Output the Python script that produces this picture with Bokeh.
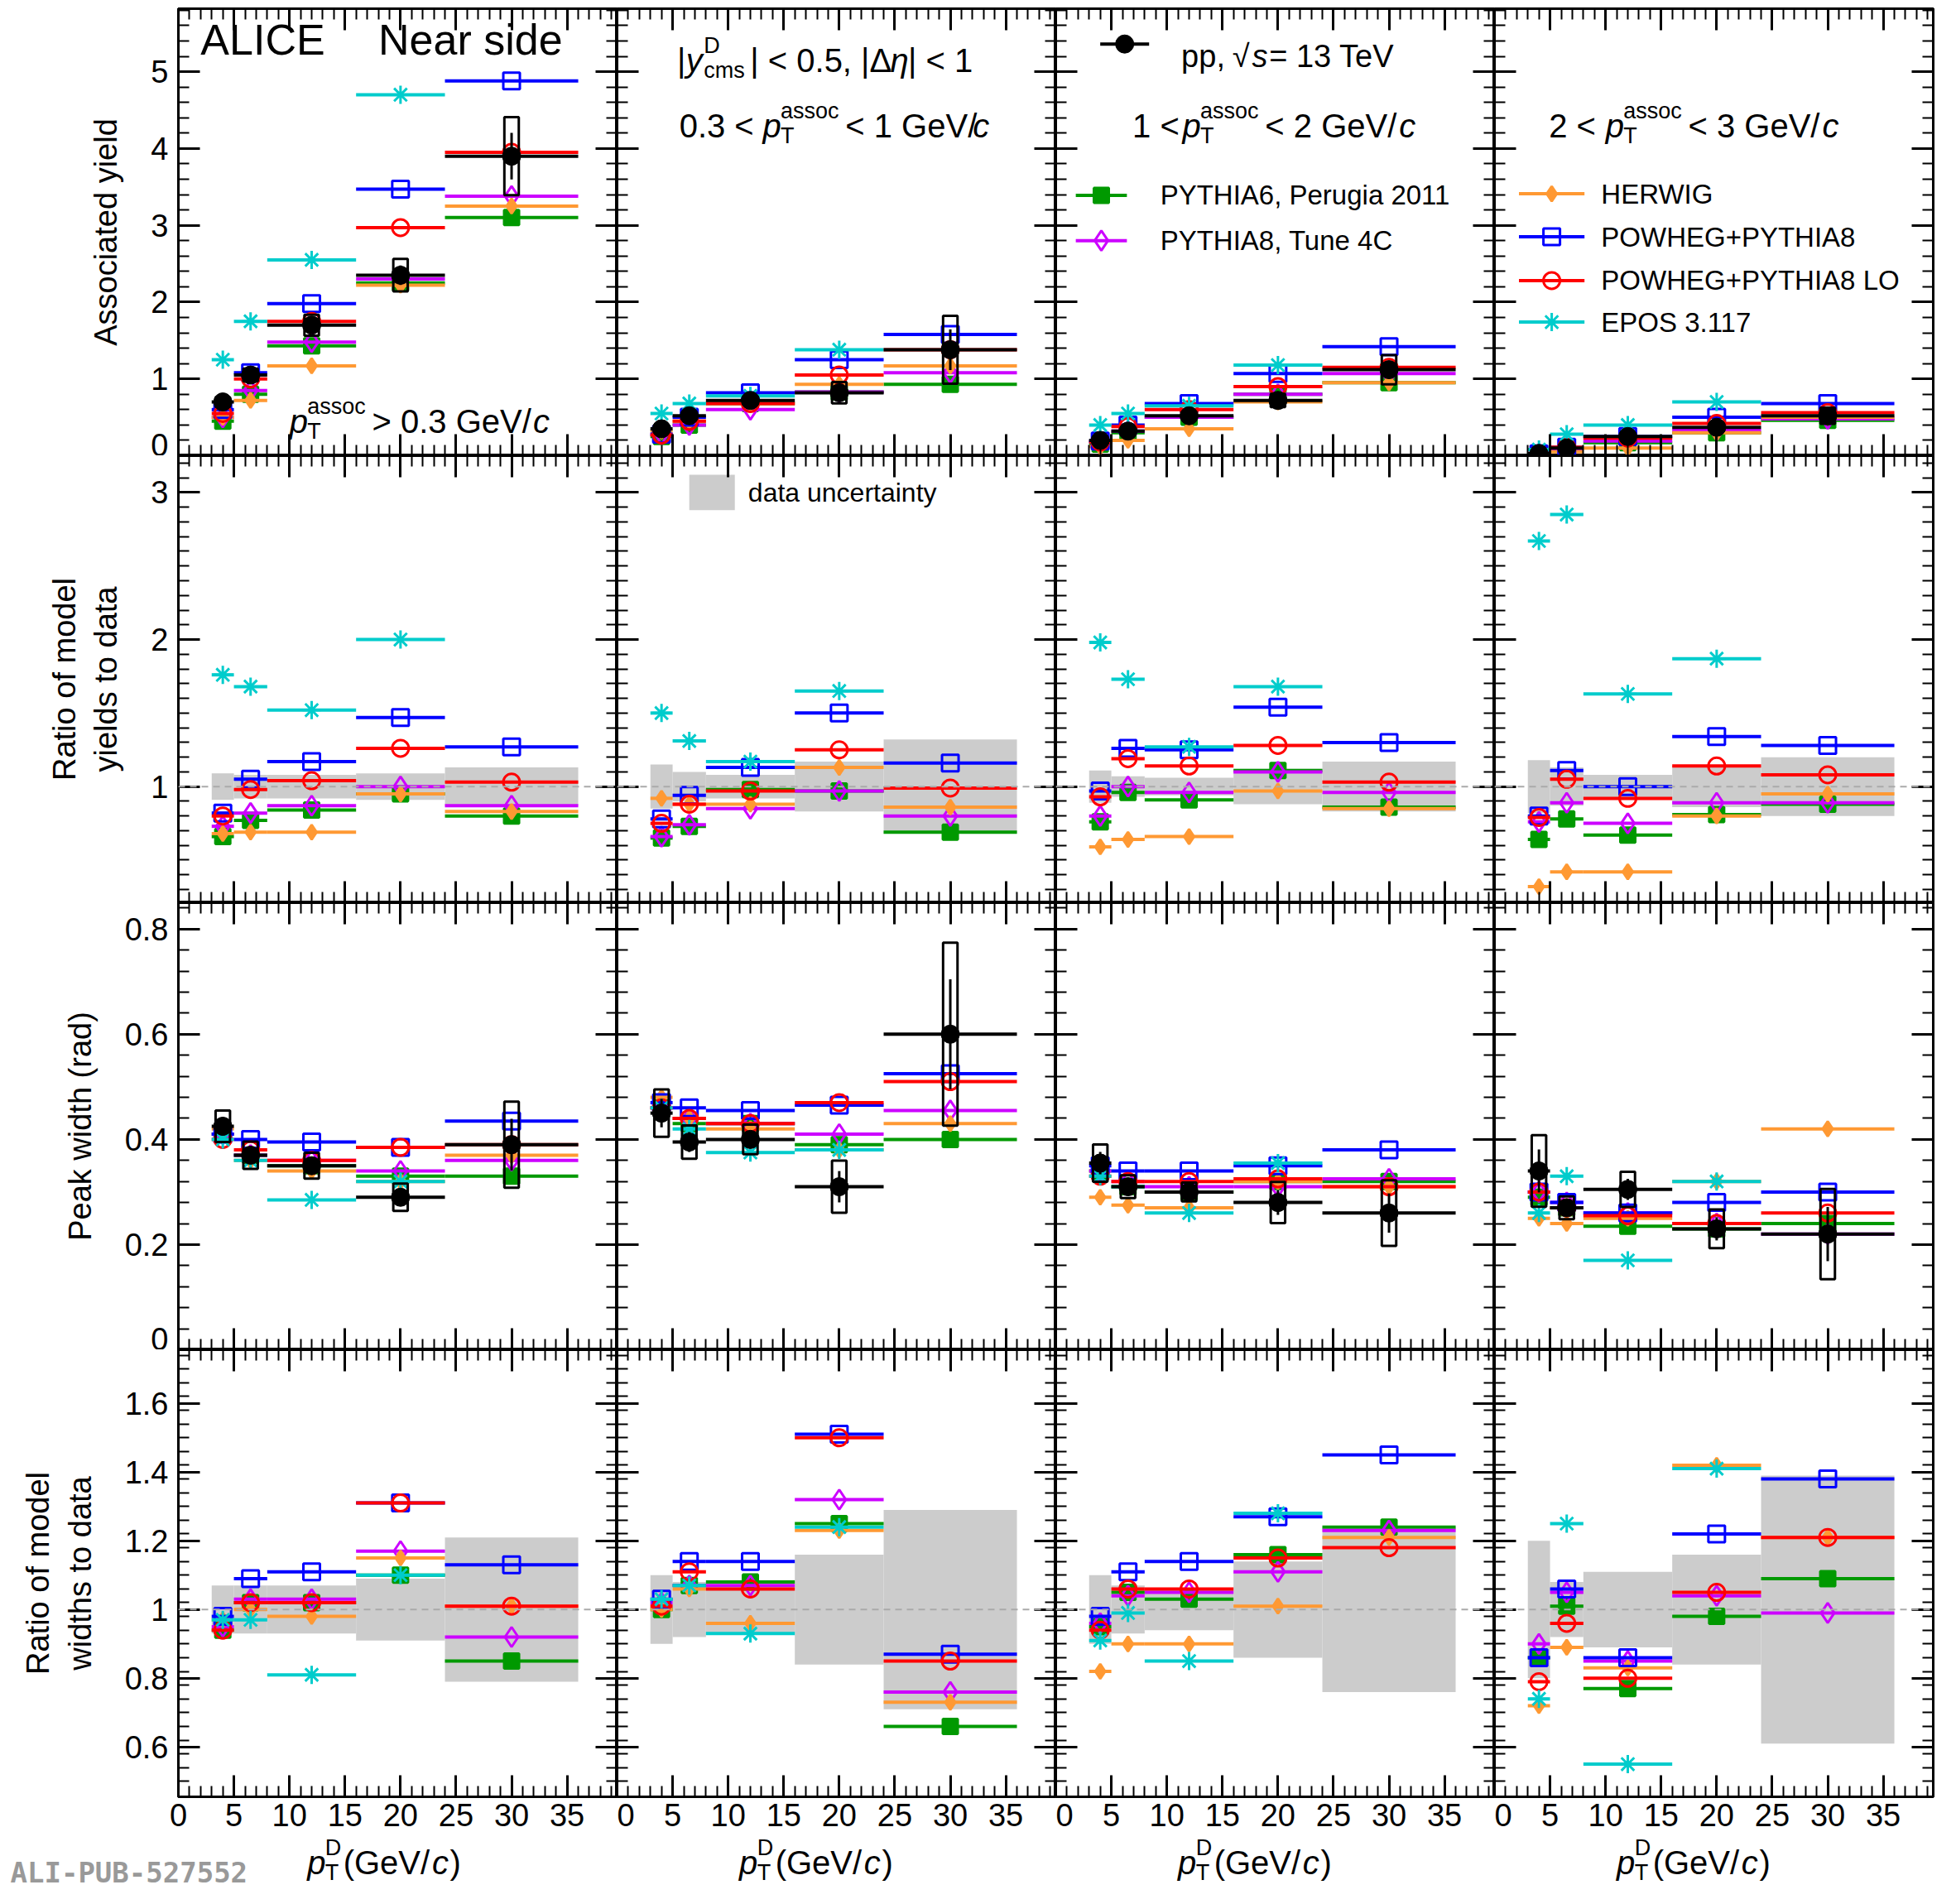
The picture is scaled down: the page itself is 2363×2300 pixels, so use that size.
import numpy as np
from bokeh.plotting import figure
from bokeh.layouts import gridplot, column
from bokeh.models import LinearAxis, FixedTicker, Label, Span, Range1d, CustomJSTickFormatter
from bokeh.embed import file_html
from bokeh.resources import INLINE

nan = float("nan")
bin_lo = [3, 5, 8, 16, 24]
bin_hi = [5, 8, 16, 24, 36]
bin_c = [4, 6.5, 12, 20, 30]

series_names = ["P6", "P8", "HER", "POW", "LO", "EPOS"]

# Row 1: associated yield, per column
yield_data = [[0.70, 1.05, 1.70, 2.35, 3.90], [0.35, 0.52, 0.72, 0.82, 1.38],
              [0.20, 0.32, 0.52, 0.72, 1.12], [0.03, 0.10, 0.25, 0.37, 0.52]]
yield_models = [
    {"P6": [0.45, 0.80, 1.43, 2.25, 3.10], "P8": [0.50, 0.85, 1.48, 2.30, 3.38], "HER": [0.50, 0.72, 1.17, 2.22, 3.25],
     "POW": [0.60, 1.08, 1.98, 3.47, 4.88], "LO": [0.55, 1.00, 1.75, 2.97, 3.95], "EPOS": [1.25, 1.75, 2.55, 4.70, nan]},
    {"P6": [0.25, 0.40, 0.68, 0.83, 0.93], "P8": [0.28, 0.40, 0.60, 0.83, 1.08], "HER": [0.32, 0.45, 0.68, 0.93, 1.17],
     "POW": [0.28, 0.50, 0.82, 1.25, 1.58], "LO": [0.27, 0.45, 0.68, 1.05, 1.38], "EPOS": [0.55, 0.68, 0.78, 1.38, nan]},
    {"P6": [0.15, 0.30, 0.50, 0.80, 0.95], "P8": [0.18, 0.32, 0.50, 0.80, 1.07], "HER": [0.12, 0.20, 0.35, 0.70, 0.95],
     "POW": [0.19, 0.40, 0.68, 1.07, 1.42], "LO": [0.18, 0.38, 0.60, 0.90, 1.15], "EPOS": [0.40, 0.55, 0.65, 1.18, nan]},
    {"P6": [0.02, 0.08, 0.17, 0.30, 0.46], "P8": [0.02, 0.09, 0.19, 0.33, 0.48], "HER": [0.01, 0.05, 0.10, 0.30, 0.50],
     "POW": [0.025, 0.11, 0.25, 0.50, 0.68], "LO": [0.024, 0.11, 0.23, 0.42, 0.56], "EPOS": [0.08, 0.28, 0.40, 0.70, nan]},
]
# Row 2: yield ratios
yratio_models = [
    {"P6": [0.66, 0.77, 0.84, 0.95, 0.80], "P8": [0.73, 0.82, 0.87, 1.00, 0.87], "HER": [0.68, 0.69, 0.69, 0.95, 0.83],
     "POW": [0.82, 1.05, 1.17, 1.47, 1.27], "LO": [0.80, 0.98, 1.04, 1.26, 1.03], "EPOS": [1.76, 1.68, 1.52, 2.00, nan]},
    {"P6": [0.65, 0.73, 0.98, 0.97, 0.69], "P8": [0.66, 0.74, 0.85, 0.97, 0.80], "HER": [0.92, 0.88, 0.88, 1.13, 0.86],
     "POW": [0.78, 0.94, 1.13, 1.50, 1.16], "LO": [0.75, 0.88, 0.97, 1.25, 0.99], "EPOS": [1.50, 1.31, 1.17, 1.65, nan]},
    {"P6": [0.76, 0.96, 0.91, 1.11, 0.86], "P8": [0.80, 1.00, 0.96, 1.10, 0.96], "HER": [0.59, 0.64, 0.66, 0.97, 0.85],
     "POW": [0.97, 1.26, 1.25, 1.54, 1.30], "LO": [0.93, 1.19, 1.14, 1.28, 1.03], "EPOS": [1.98, 1.73, 1.27, 1.68, nan]},
    {"P6": [0.64, 0.78, 0.67, 0.81, 0.88], "P8": [0.76, 0.89, 0.75, 0.89, 0.89], "HER": [0.32, 0.42, 0.42, 0.80, 0.95],
     "POW": [0.80, 1.11, 1.00, 1.34, 1.28], "LO": [0.79, 1.05, 0.92, 1.14, 1.08], "EPOS": [2.67, 2.85, 1.63, 1.87, nan]},
]
yratio_band = [[0.09, 0.08, 0.08, 0.09, 0.13], [0.15, 0.10, 0.08, 0.17, 0.32],
               [0.11, 0.07, 0.06, 0.12, 0.17], [0.18, 0.13, 0.08, 0.14, 0.20]]
# Row 3: peak widths
width_data = [[0.425, 0.37, 0.35, 0.29, 0.39], [0.45, 0.395, 0.40, 0.31, 0.60],
              [0.355, 0.31, 0.30, 0.28, 0.26], [0.34, 0.27, 0.305, 0.23, 0.22]]
width_models = [
    {"P6": [0.41, 0.37, 0.35, 0.33, 0.33], "P8": [0.41, 0.37, 0.36, 0.34, 0.36], "HER": [0.42, 0.36, 0.34, 0.32, 0.37],
     "POW": [0.41, 0.40, 0.395, 0.385, 0.435], "LO": [0.40, 0.38, 0.36, 0.385, 0.39], "EPOS": [0.40, 0.36, 0.285, 0.32, nan]},
    {"P6": [0.46, 0.43, 0.43, 0.39, 0.40], "P8": [0.46, 0.44, 0.43, 0.41, 0.455], "HER": [0.48, 0.44, 0.42, 0.38, 0.43],
     "POW": [0.47, 0.46, 0.455, 0.465, 0.525], "LO": [0.46, 0.44, 0.43, 0.47, 0.51], "EPOS": [0.46, 0.42, 0.375, 0.38, nan]},
    {"P6": [0.34, 0.31, 0.30, 0.32, 0.32], "P8": [0.34, 0.32, 0.31, 0.31, 0.325], "HER": [0.29, 0.275, 0.27, 0.32, 0.31],
     "POW": [0.35, 0.34, 0.34, 0.35, 0.38], "LO": [0.33, 0.32, 0.32, 0.325, 0.31], "EPOS": [0.33, 0.31, 0.26, 0.355, nan]},
    {"P6": [0.29, 0.27, 0.235, 0.23, 0.24], "P8": [0.30, 0.28, 0.26, 0.24, 0.22], "HER": [0.25, 0.24, 0.25, 0.32, 0.42],
     "POW": [0.30, 0.28, 0.26, 0.28, 0.30], "LO": [0.30, 0.27, 0.255, 0.24, 0.26], "EPOS": [0.26, 0.33, 0.17, 0.32, nan]},
]
# Row 4: width ratios
wratio_models = [
    {"P6": [0.94, 1.02, 1.02, 1.10, 0.85], "P8": [0.95, 1.03, 1.03, 1.17, 0.92], "HER": [0.97, 1.00, 0.98, 1.15, 1.01],
     "POW": [0.98, 1.09, 1.11, 1.31, 1.13], "LO": [0.94, 1.02, 1.02, 1.31, 1.01], "EPOS": [0.97, 0.97, 0.81, 1.10, nan]},
    {"P6": [1.00, 1.07, 1.08, 1.25, 0.66], "P8": [1.02, 1.07, 1.07, 1.32, 0.76], "HER": [1.00, 1.06, 0.96, 1.23, 0.73],
     "POW": [1.03, 1.14, 1.14, 1.51, 0.87], "LO": [1.01, 1.11, 1.06, 1.50, 0.85], "EPOS": [1.03, 1.07, 0.93, 1.24, nan]},
    {"P6": [0.95, 1.05, 1.03, 1.16, 1.24], "P8": [0.96, 1.04, 1.05, 1.11, 1.23], "HER": [0.82, 0.90, 0.90, 1.01, 1.21],
     "POW": [0.98, 1.11, 1.14, 1.27, 1.45], "LO": [0.94, 1.06, 1.06, 1.15, 1.18], "EPOS": [0.91, 0.99, 0.85, 1.28, nan]},
    {"P6": [0.86, 1.01, 0.77, 0.98, 1.09], "P8": [0.90, 1.05, 0.85, 1.04, 0.99], "HER": [0.72, 0.89, 0.83, 1.42, 1.21],
     "POW": [0.86, 1.06, 0.86, 1.22, 1.38], "LO": [0.79, 0.96, 0.80, 1.05, 1.21], "EPOS": [0.74, 1.25, 0.55, 1.41, nan]},
]
wratio_band = [[0.07, 0.07, 0.07, 0.09, 0.21], [0.10, 0.08, 0.07, 0.16, 0.29],
               [0.10, 0.07, 0.06, 0.14, 0.24], [0.20, 0.08, 0.11, 0.16, 0.39]]

legend_labels = {"P6": "PYTHIA6, Perugia 2011", "P8": "PYTHIA8, Tune 4C", "HER": "HERWIG",
                 "POW": "POWHEG+PYTHIA8", "LO": "POWHEG+PYTHIA8 LO", "EPOS": "EPOS 3.117"}
colors = {"data": "black", "P6": "#009900", "P8": "#cc00ff", "HER": "#ff9933",
          "POW": "#0000ff", "LO": "#ff0000", "EPOS": "#00cccc"}
markers = {"data": ("circle", 22, True), "P6": ("square", 18, True), "P8": ("diamond", 24, False),
           "HER": ("diamond", 18, True), "POW": ("square", 20, False), "LO": ("circle", 20, False),
           "EPOS": ("asterisk", 22, False)}

FONT = "Liberation Sans"
FW, FH = 530, 540
LB, RB = 215, 14
XR = (0, 39.5)
YR = [(0, 5.82), (0.21, 3.25), (0, 0.85), (0.455, 1.756)]
YTICKS = [[0, 1, 2, 3, 4, 5], [1, 2, 3], [0, 0.2, 0.4, 0.6, 0.8], [0.6, 0.8, 1, 1.2, 1.4, 1.6]]
YMINOR = [list(np.round(np.arange(0, 5.81, 0.2), 3)), list(np.round(np.arange(0.3, 3.25, 0.1), 3)),
          list(np.round(np.arange(0, 0.85, 0.04), 3)), list(np.round(np.arange(0.5, 1.75, 0.04), 3))]
YTITLES = ["Associated yield", "Ratio of model\nyields to data", "Peak width (rad)", "Ratio of model\nwidths to data"]
EMPTY = CustomJSTickFormatter(code="return ''")
XPP = (XR[1] - XR[0]) / FW


def cw(ch):
    if ch in "il|.,:;!' /":
        return 0.27
    if ch in "()-tfrj1":
        return 0.34
    if ch in "mwMW%":
        return 0.8
    if ch.isupper() or ch in "<>=√":
        return 0.63
    return 0.54


def rich(p, x0, y0, parts, size, xpp, ypp):
    """parts: list of (text, kind); kind n,i,sub,sup"""
    x = x0
    prev = None
    start = x0
    for txt, kind in parts:
        s = size
        dy = 0
        style = "normal"
        if kind == "i":
            style = "italic"
        if kind in ("sub", "sup"):
            s = size * 0.68
            dy = -0.3 * size if kind == "sub" else 0.45 * size
        elif prev in ("sub", "sup"):
            x += 0.12 * size * xpp
        w = sum(cw(c) for c in txt) * s
        if kind in ("sub", "sup") and prev in ("sub", "sup") and prev != kind:
            xx = start
            x = max(x, start + w * xpp)
        else:
            xx = x
            start = x
            x = x + w * xpp
        p.add_layout(Label(x=xx, y=y0 + dy * ypp, text=txt, text_font=FONT, text_font_size=f"{s:.0f}px",
                           text_font_style=style, text_baseline="alphabetic", text_color="black"))
        prev = kind
    return x


def make_fig(r, c):
    p = figure(frame_width=FW, frame_height=FH, output_backend="svg", toolbar_location=None,
               x_range=Range1d(*XR), y_range=Range1d(*YR[r]),
               min_border_left=LB if c == 0 else 0, min_border_right=RB if c == 3 else 0,
               min_border_top=10 if r == 0 else 0, min_border_bottom=0)
    p.grid.visible = False
    p.outline_line_color = "black"
    p.outline_line_width = 3
    bottom = p.below[0]
    left = p.left[0]
    top = LinearAxis()
    right = LinearAxis()
    p.add_layout(top, "above")
    p.add_layout(right, "right")
    for ax in [bottom, top]:
        ax.ticker = FixedTicker(ticks=[0, 5, 10, 15, 20, 25, 30, 35], minor_ticks=list(range(0, 40)))
    for ax in [left, right]:
        ax.ticker = FixedTicker(ticks=YTICKS[r], minor_ticks=YMINOR[r])
    for ax in [bottom, left, top, right]:
        ax.major_tick_in = 26
        ax.major_tick_out = 0
        ax.minor_tick_in = 13
        ax.minor_tick_out = 0
        ax.axis_line_width = 3
        ax.major_tick_line_width = 3
        ax.minor_tick_line_width = 2
        ax.major_label_text_font = FONT
        ax.major_label_text_font_size = "38px"
        ax.major_label_text_color = "black"
        ax.axis_label_text_font = FONT
        ax.axis_label_text_font_style = "normal"
        ax.axis_label_text_font_size = "38px"
        ax.axis_label_text_color = "black"
    hidden = [top, right]
    if c != 0:
        hidden.append(left)
    else:
        left.axis_label = YTITLES[r]
        left.axis_label_standoff = 30
        left.major_label_standoff = 12
    if r != 3:
        hidden.append(bottom)
    else:
        bottom.major_label_standoff = 8
    for ax in hidden:
        ax.formatter = EMPTY
        ax.major_label_standoff = 0
        ax.major_label_text_font_size = "1px"
    return p


def draw_models(p, models):
    for k in series_names:
        col = colors[k]
        y = models[k]
        p.segment(x0=bin_lo, x1=bin_hi, y0=y, y1=y, line_color=col, line_width=4)
        m, s, filled = markers[k]
        p.scatter(x=bin_c, y=y, marker=m, size=s, line_color=col, line_width=3,
                  fill_color=col if filled else None)


def draw_data(p, y, rel):
    sys = [yy * rr for yy, rr in zip(y, rel)]
    p.segment(x0=bin_lo, x1=bin_hi, y0=y, y1=y, line_color="black", line_width=4)
    p.rect(x=bin_c, y=y, width=1.3, height=[2 * s for s in sys], fill_color=None, line_color="black", line_width=3)
    p.segment(x0=bin_c, x1=bin_c, y0=[a - 0.6 * s for a, s in zip(y, sys)], y1=[a + 0.6 * s for a, s in zip(y, sys)],
              line_color="black", line_width=3)
    p.scatter(x=bin_c, y=y, marker="circle", size=22, fill_color="black", line_color="black")


def draw_band(p, band):
    p.quad(left=bin_lo, right=bin_hi, bottom=[1 - b for b in band], top=[1 + b for b in band],
           fill_color="#cccccc", line_color=None)
    p.add_layout(Span(location=1, dimension="width", line_color="#aaaaaa", line_dash="8 6", line_width=2))


def legend_entry(p, x0, x1, xt, y, key, label):
    col = colors[key]
    p.segment(x0=[x0], x1=[x1], y0=[y], y1=[y], line_color=col, line_width=4)
    m, s, filled = markers[key]
    p.scatter(x=[(x0 + x1) / 2], y=[y], marker=m, size=s, line_color=col, line_width=3,
              fill_color=col if filled else None)
    p.add_layout(Label(x=xt, y=y, text=label, text_font=FONT, text_font_size="33px",
                       text_baseline="middle", text_color="black"))


grid = []
for r in range(4):
    row = []
    for c in range(4):
        p = make_fig(r, c)
        if r == 0:
            draw_models(p, yield_models[c])
            draw_data(p, yield_data[c], yratio_band[c])
        elif r == 1:
            draw_band(p, yratio_band[c])
            draw_models(p, yratio_models[c])
        elif r == 2:
            draw_models(p, width_models[c])
            draw_data(p, width_data[c], wratio_band[c])
        else:
            draw_band(p, wratio_band[c])
            draw_models(p, wratio_models[c])
        row.append(p)
    grid.append(row)

y0r = YR[0]
ypp0 = (y0r[1] - y0r[0]) / FH
grid[0][0].add_layout(Label(x=2.0, y=5.1, text="ALICE", text_font=FONT, text_font_size="52px", text_color="black"))
grid[0][0].add_layout(Label(x=18.0, y=5.1, text="Near side", text_font=FONT, text_font_size="52px", text_color="black"))
rich(grid[0][0], 10.0, 0.45, [("p", "i"), ("T", "sub"), ("assoc", "sup"), (" > 0.3 GeV/", "n"), ("c", "i")], 40, XPP, ypp0)
rich(grid[0][1], 5.4, 5.15, [("|", "n"), ("y", "i"), ("cms", "sub"), ("D", "sup"), ("| < 0.5, |Δ", "n"), ("η", "i"),
                             ("| < 1", "n")], 40, XPP, ypp0)
rich(grid[0][1], 5.6, 4.3, [("0.3 < ", "n"), ("p", "i"), ("T", "sub"), ("assoc", "sup"), (" < 1 GeV/", "n"), ("c", "i")], 40, XPP, ypp0)
rich(grid[0][2], 6.9, 4.3, [("1 < ", "n"), ("p", "i"), ("T", "sub"), ("assoc", "sup"), (" < 2 GeV/", "n"), ("c", "i")], 40, XPP, ypp0)
rich(grid[0][3], 4.9, 4.3, [("2 < ", "n"), ("p", "i"), ("T", "sub"), ("assoc", "sup"), (" < 3 GeV/", "n"), ("c", "i")], 40, XPP, ypp0)

g = grid[0][2]
g.segment(x0=[4.0], x1=[8.4], y0=[5.36], y1=[5.36], line_color="black", line_width=4)
g.scatter(x=[6.2], y=[5.36], marker="circle", size=22, fill_color="black", line_color="black")
rich(g, 11.3, 5.2, [("pp, ", "n"), ("√", "n"), ("s", "i"), (" = 13 TeV", "n")], 38, XPP, ypp0)
legend_entry(g, 1.8, 6.4, 9.4, 3.39, "P6", legend_labels["P6"])
legend_entry(g, 1.8, 6.4, 9.4, 2.80, "P8", legend_labels["P8"])
g = grid[0][3]
for yy, k in zip([3.41, 2.85, 2.28, 1.74], ["HER", "POW", "LO", "EPOS"]):
    legend_entry(g, 2.2, 8.1, 9.6, yy, k, legend_labels[k])

g = grid[1][1]
g.quad(left=[6.5], right=[10.6], bottom=[2.88], top=[3.12], fill_color="#cccccc", line_color=None)
g.add_layout(Label(x=11.8, y=3.0, text="data uncertainty", text_font=FONT, text_font_size="32px",
                   text_baseline="middle", text_color="black"))

# strip of x-axis titles under the bottom row (pixel coordinates)
SH = 85
TW = LB + 4 * FW + RB
strip = figure(frame_width=TW, frame_height=SH, output_backend="svg", toolbar_location=None,
               x_range=Range1d(0, TW), y_range=Range1d(0, SH),
               min_border_left=0, min_border_right=0, min_border_top=0, min_border_bottom=0)
strip.axis.visible = False
strip.grid.visible = False
strip.outline_line_color = None
for c in range(4):
    x0 = LB + c * FW + (11.6 if c == 0 else 11.0) / XPP
    rich(strip, x0, 44, [("p", "i"), ("T", "sub"), ("D", "sup"), (" (GeV/", "n"), ("c", "i"), (")", "n")], 40, 1, 1)
strip.add_layout(Label(x=12, y=12, text="ALI-PUB-527552", text_font="DejaVu Sans Mono",
                       text_font_style="bold", text_font_size="34px", text_color="#999999"))

layout = column(gridplot(grid, toolbar_location=None), strip, spacing=0)
open("out.html", "w").write(file_html(layout, INLINE))
